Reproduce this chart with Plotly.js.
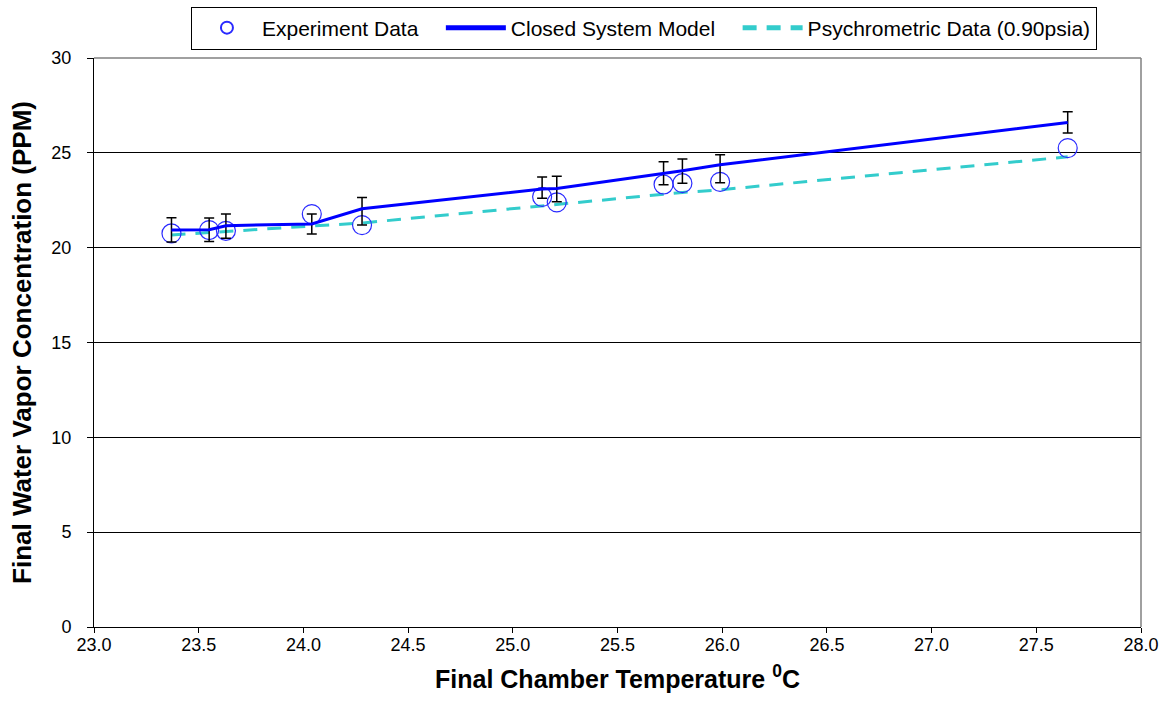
<!DOCTYPE html>
<html>
<head>
<meta charset="utf-8">
<script src="https://cdn.plot.ly/plotly-3.0.1.min.js"></script>
<style>
  html, body { margin: 0; padding: 0; background: #ffffff; }
  #chart { width: 1166px; height: 719px; }
</style>
</head>
<body>
<div id="chart"></div>
<script>
// Final chamber temperature (deg C) of each run
const temperature = [23.37, 23.55, 23.63, 24.04, 24.28, 25.14, 25.21, 25.72, 25.81, 25.99, 27.65];

// Measured final water vapor concentration (PPM)
const experimentPPM = [20.75, 20.93, 20.89, 21.77, 21.19, 22.68, 22.39, 23.33, 23.40, 23.47, 25.25];

// Closed system model prediction (PPM) and its uncertainty band
const modelPPM = [20.93, 20.95, 21.16, 21.25, 22.05, 23.09, 23.12, 23.88, 24.05, 24.37, 26.60];
const modelErrPlus = [0.65, 0.61, 0.61, 0.53, 0.60, 0.63, 0.65, 0.65, 0.62, 0.53, 0.57];
const modelErrMinus = [0.63, 0.62, 0.67, 0.53, 0.86, 0.48, 0.70, 0.56, 0.65, 0.95, 0.56];

// Psychrometric saturation data at 0.90 psia (PPM)
const psychroPPM = [20.67, 20.80, 20.88, 21.14, 21.30, 22.20, 22.30, 22.82, 22.91, 23.05, 24.79];

const FONT = 'Arial, "Liberation Sans", sans-serif';
// extra room after a legend entry
const GAP = '\u00A0\u00A0\u00A0';

const traces = [
  {
    x: temperature,
    y: psychroPPM,
    type: 'scatter',
    mode: 'lines',
    name: 'Psychrometric Data (0.90psia)',
    legendrank: 3,
    line: { color: '#33CCCC', width: 3, dash: '14px,10px' }
  },
  {
    x: temperature,
    y: experimentPPM,
    type: 'scatter',
    mode: 'markers',
    name: 'Experiment Data' + GAP,
    legendrank: 1,
    marker: { symbol: 'circle-open', size: 19, color: '#2a2aff', line: { width: 1.2, color: '#2a2aff' } }
  },
  {
    x: temperature,
    y: modelPPM,
    type: 'scatter',
    mode: 'lines',
    name: 'Closed System Model' + GAP,
    legendrank: 2,
    line: { color: '#0000FF', width: 3 },
    error_y: {
      type: 'data',
      symmetric: false,
      array: modelErrPlus,
      arrayminus: modelErrMinus,
      color: '#000000',
      thickness: 1.5,
      width: 5
    }
  }
];

const layout = {
  width: 1166,
  height: 719,
  margin: { l: 94, r: 25, t: 58, b: 92, autoexpand: false },
  paper_bgcolor: '#ffffff',
  plot_bgcolor: '#ffffff',
  font: { family: FONT, size: 17, color: '#000000' },
  showlegend: true,
  legend: {
    orientation: 'h',
    x: 0.0926,
    xanchor: 'left',
    y: 1.0905,
    yanchor: 'top',
    bordercolor: '#000000',
    borderwidth: 1,
    bgcolor: '#ffffff',
    font: { family: FONT, size: 21, color: '#000000' },
    itemsizing: 'constant',
    traceorder: 'normal',
    itemwidth: 60
  },
  xaxis: {
    range: [23, 28],
    dtick: 0.5,
    tick0: 23,
    tickformat: '.1f',
    ticks: 'outside',
    ticklen: 5,
    ticklabelstandoff: -4,
    tickcolor: '#000000',
    showgrid: false,
    zeroline: false,
    showline: true,
    linecolor: '#000000',
    linewidth: 1,
    mirror: false,
    tickfont: { family: FONT, size: 18, color: '#000000' },
    title: {
      text: 'Final Chamber Temperature <sup>0</sup>C',
      font: { family: FONT, size: 25, color: '#000000', weight: 'bold' },
      standoff: 16
    }
  },
  yaxis: {
    range: [0, 30],
    dtick: 5,
    ticks: 'outside',
    ticklen: 6,
    ticklabelstandoff: 12,
    tickcolor: '#000000',
    showgrid: true,
    gridcolor: '#000000',
    gridwidth: 1,
    zeroline: false,
    showline: true,
    linecolor: '#000000',
    linewidth: 1,
    tickfont: { family: FONT, size: 18, color: '#000000' },
    title: {
      text: 'Final Water Vapor Concentration (PPM)',
      font: { family: FONT, size: 26, color: '#000000', weight: 'bold' },
      standoff: 12
    }
  },
  shapes: [
    // grey frame on the top and right of the plotting area
    { type: 'line', xref: 'paper', yref: 'paper', x0: 0, x1: 1, y0: 1, y1: 1, line: { color: '#808080', width: 1.5 } },
    { type: 'line', xref: 'paper', yref: 'paper', x0: 1, x1: 1, y0: 0, y1: 1, line: { color: '#808080', width: 1.5 } }
  ]
};

Plotly.newPlot('chart', traces, layout, { displayModeBar: false, staticPlot: true });
</script>
</body>
</html>
